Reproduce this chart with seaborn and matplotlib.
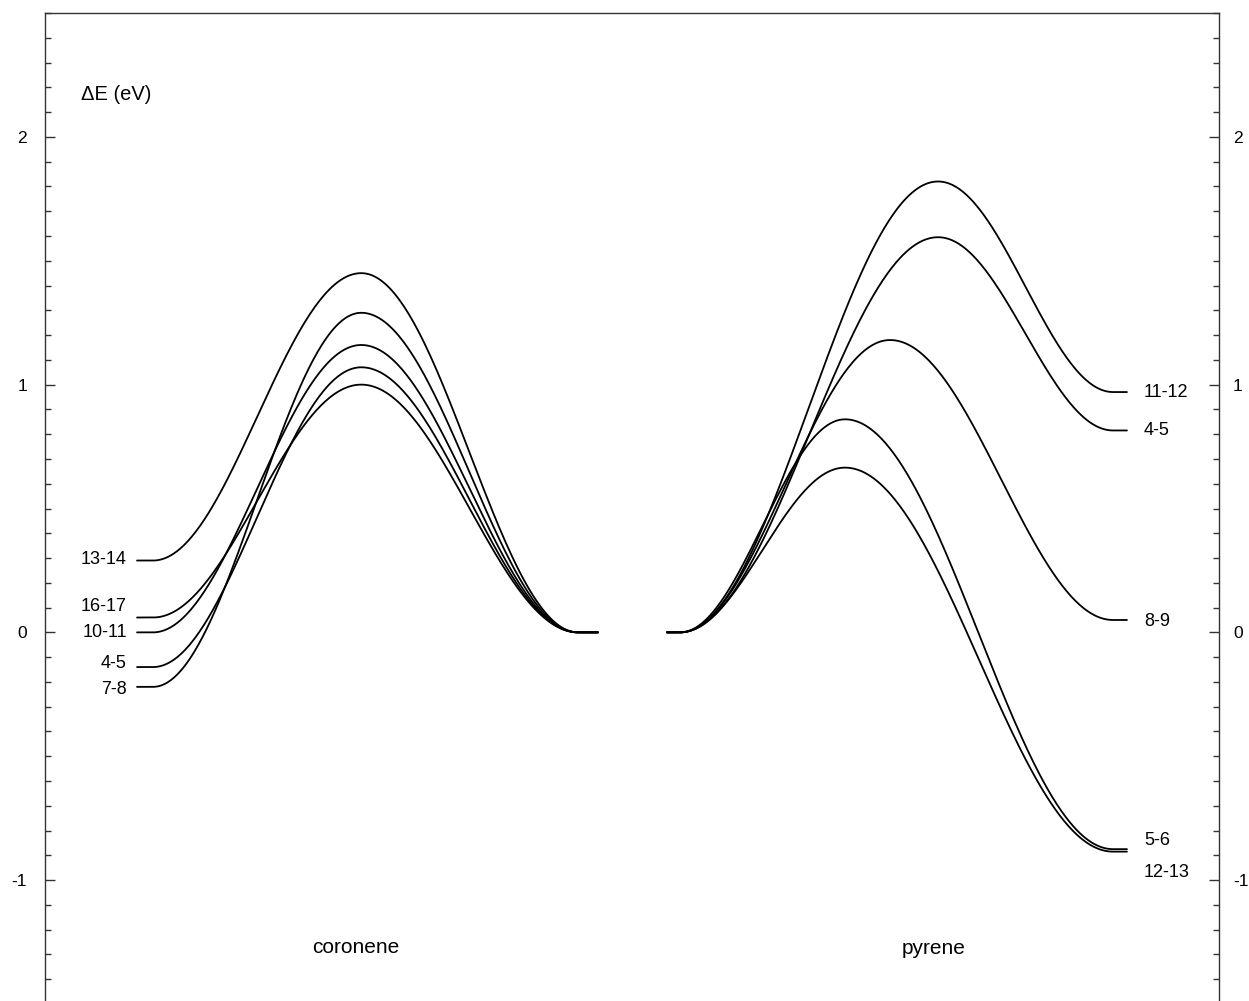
import numpy as np
import pandas as pd
import matplotlib
matplotlib.use("Agg")
import matplotlib.pyplot as plt
import matplotlib.transforms as mtransforms
import seaborn as sns
from matplotlib.ticker import MultipleLocator, FixedLocator

# ---- energy profiles (eV), reactant at 0 in the middle of the plot ----
coronene_labels = ["13-14", "16-17", "10-11", "4-5", "7-8"]
coronene_end = [0.29, 0.06, 0.0, -0.14, -0.22]      # product level (left side)
coronene_ts = [1.45, 1.00, 1.16, 1.07, 1.29]        # barrier top
coronene_ts_pos = [0.49, 0.49, 0.49, 0.49, 0.49]    # TS location along the path (left -> right)

pyrene_labels = ["11-12", "4-5", "8-9", "5-6", "12-13"]
pyrene_end = [0.97, 0.815, 0.05, -0.875, -0.885]    # product level (right side)
pyrene_ts = [1.82, 1.595, 1.18, 0.86, 0.665]
pyrene_ts_pos = [0.596, 0.596, 0.485, 0.381, 0.381]

y_ticks_major = [-1, 0, 1, 2]

# ---- layout (reaction coordinate units) ----
COR_FLAT_L, COR_CURVE_L, COR_CURVE_R, COR_FLAT_R = 7.84, 9.20, 45.40, 47.10
PYR_FLAT_L, PYR_CURVE_L, PYR_CURVE_R, PYR_FLAT_R = 52.98, 54.09, 90.97, 92.16


def profile(e_left, e_top, e_right, t_top, x_flat_l, x_l, x_r, x_flat_r, n=300):
    """Flat level, smooth rise to the barrier top, smooth fall, flat level."""
    t = np.linspace(0.0, 1.0, n)
    rise = e_left + (e_top - e_left) * (1 - np.cos(np.pi * np.clip(t / t_top, 0, 1))) / 2
    fall = e_top + (e_right - e_top) * (1 - np.cos(np.pi * np.clip((t - t_top) / (1 - t_top), 0, 1))) / 2
    y = np.where(t <= t_top, rise, fall)
    x = x_l + t * (x_r - x_l)
    x = np.concatenate([[x_flat_l], x, [x_flat_r]])
    y = np.concatenate([[e_left], y, [e_right]])
    return x, y


frames = []
for lab, e_end, e_ts, pos in zip(coronene_labels, coronene_end, coronene_ts, coronene_ts_pos):
    x, y = profile(e_end, e_ts, 0.0, pos, COR_FLAT_L, COR_CURVE_L, COR_CURVE_R, COR_FLAT_R)
    frames.append(pd.DataFrame({"x": x, "E": y, "path": "coronene " + lab}))
for lab, e_end, e_ts, pos in zip(pyrene_labels, pyrene_end, pyrene_ts, pyrene_ts_pos):
    x, y = profile(0.0, e_ts, e_end, pos, PYR_FLAT_L, PYR_CURVE_L, PYR_CURVE_R, PYR_FLAT_R)
    frames.append(pd.DataFrame({"x": x, "E": y, "path": "pyrene " + lab}))
df = pd.concat(frames, ignore_index=True)

sns.set_style("white")
plt.rcParams["font.family"] = ["Liberation Sans", "DejaVu Sans"]
plt.rcParams["text.color"] = "black"

W, H = 1249, 1001
fig = plt.figure(figsize=(W / 100, H / 100), dpi=100)
ax = fig.add_axes([45 / W, -3 / H, 1174 / W, 991 / H])

sns.lineplot(data=df, x="x", y="E", units="path", estimator=None, sort=False,
             color="black", lw=1.3, ax=ax, legend=False)

ax.set_xlim(0, 100)
ax.set_ylim(-1.5, 2.5)
ax.set_xlabel("")
ax.set_ylabel("")
ax.set_xticks([])

for side in ["left", "right", "top", "bottom"]:
    ax.spines[side].set_visible(True)
    ax.spines[side].set_color("#333333")
    ax.spines[side].set_linewidth(1.0)

ax.yaxis.set_major_locator(FixedLocator(y_ticks_major))
ax.yaxis.set_minor_locator(MultipleLocator(0.1))
ax.set_yticklabels([str(v) for v in y_ticks_major])
ax.tick_params(axis="y", which="both", direction="in", left=True, right=True,
               labelleft=True, labelright=True, colors="#333333", labelcolor="black",
               labelsize=12.5)
ax.tick_params(axis="y", which="major", length=7, width=1.0, pad=13)
ax.tick_params(axis="y", which="minor", length=4, width=1.0)
# right-hand labels sit a little closer to the frame
shift = mtransforms.ScaledTranslation(-4 / 100, 0, fig.dpi_scale_trans)
for tick in ax.yaxis.get_major_ticks():
    tick.label2.set_transform(tick.label2.get_transform() + shift)

# level labels
cor_label_y = [0.294, 0.105, 0.0, -0.125, -0.23]
for lab, yl in zip(coronene_labels, cor_label_y):
    ax.text(6.98, yl, lab, ha="right", va="center", fontsize=13, color="black")
pyr_label_y = [0.968, 0.815, 0.044, -0.84, -0.97]
for lab, yl in zip(pyrene_labels, pyr_label_y):
    ax.text(93.6, yl, lab, ha="left", va="center", fontsize=13, color="black")

ax.text(3.07, 2.17, "ΔE (eV)", ha="left", va="center", fontsize=14.5, color="black")
ax.text(26.5, -1.27, "coronene", ha="center", va="center", fontsize=15, color="black")
ax.text(75.7, -1.274, "pyrene", ha="center", va="center", fontsize=15, color="black")

fig.savefig("out.png", dpi=100)
